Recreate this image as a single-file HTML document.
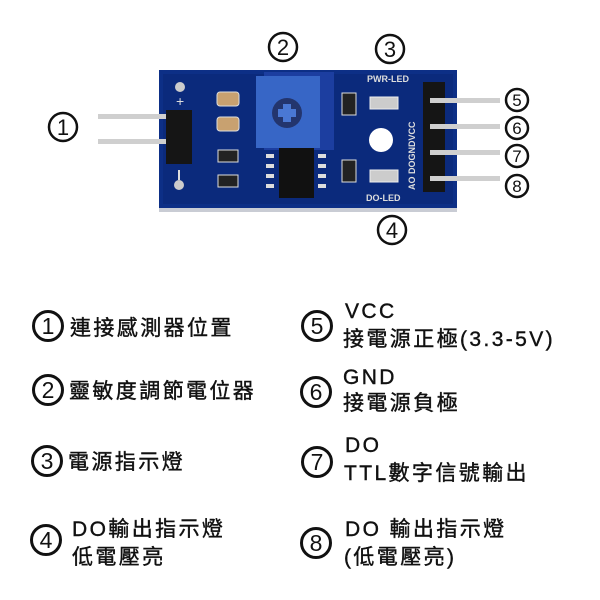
<!DOCTYPE html>
<html><head><meta charset="utf-8"><style>
html,body{margin:0;padding:0;background:#fff}
svg{display:block}
.t{font-family:"Liberation Sans","Noto Sans CJK TC",sans-serif;fill:#111;stroke:#111;stroke-width:0.4}
.c{font-family:"Liberation Sans",sans-serif;fill:#111;text-anchor:middle}
</style></head><body>
<svg width="600" height="600" viewBox="0 0 600 600" xmlns="http://www.w3.org/2000/svg">
<rect x="159" y="200" width="298" height="12" fill="#c9ccd4"/>
<rect x="159" y="70" width="298" height="138" fill="#0d2f86"/>
<rect x="163" y="74" width="290" height="130" fill="#0b2a7c"/>
<rect x="98" y="114" width="70" height="5" fill="#cfcfcf"/>
<rect x="98" y="139" width="70" height="5" fill="#cfcfcf"/>
<rect x="166" y="110" width="26" height="54" fill="#151515"/>
<circle cx="180" cy="87" r="5" fill="#ccc"/>
<circle cx="179" cy="185" r="5" fill="#ccc"/>
<text x="176" y="106" fill="#ddd" font-size="14" font-family="Liberation Sans">+</text>
<rect x="178" y="170" width="2" height="10" fill="#ddd"/>
<rect x="217" y="92" width="22" height="14" rx="3" fill="#c8a170" stroke="#ddd"/>
<rect x="217" y="117" width="22" height="14" rx="3" fill="#c8a170" stroke="#ddd"/>
<rect x="218" y="150" width="20" height="12" fill="#222" stroke="#ddd"/>
<rect x="218" y="175" width="20" height="12" fill="#222" stroke="#ddd"/>
<rect x="264" y="72" width="70" height="78" fill="#1c3ea0"/>
<rect x="256" y="76" width="64" height="72" fill="#3766c6"/>
<circle cx="287" cy="113" r="15" fill="#23356e"/>
<rect x="283" y="104" width="8" height="18" fill="#4a78d4"/>
<rect x="278" y="109" width="18" height="8" fill="#4a78d4"/>
<rect x="279" y="148" width="35" height="50" fill="#111"/>
<g fill="#ddd"><rect x="266" y="154" width="8" height="4"/><rect x="266" y="164" width="8" height="4"/><rect x="266" y="174" width="8" height="4"/><rect x="266" y="184" width="8" height="4"/>
<rect x="318" y="154" width="8" height="4"/><rect x="318" y="164" width="8" height="4"/><rect x="318" y="174" width="8" height="4"/><rect x="318" y="184" width="8" height="4"/></g>
<rect x="342" y="93" width="14" height="22" fill="#222" stroke="#ddd"/>
<rect x="342" y="160" width="14" height="22" fill="#222" stroke="#ddd"/>
<rect x="370" y="97" width="28" height="12" fill="#ccc" stroke="#eee"/>
<rect x="370" y="170" width="28" height="12" fill="#ccc" stroke="#eee"/>
<circle cx="381" cy="140" r="12" fill="#fff"/>
<text x="367" y="82" fill="#ddd" font-size="9" font-family="Liberation Sans" font-weight="bold">PWR-LED</text>
<text x="366" y="201" fill="#ddd" font-size="9" font-family="Liberation Sans" font-weight="bold">DO-LED</text>
<text transform="translate(415,190) rotate(-90)" fill="#ddd" font-size="9" font-family="Liberation Sans" font-weight="bold">AO  DOGNDVCC</text>
<rect x="423" y="82" width="22" height="110" fill="#151515"/>
<g fill="#cfcfcf"><rect x="430" y="98" width="70" height="5"/><rect x="430" y="124" width="70" height="5"/><rect x="430" y="150" width="70" height="5"/><rect x="430" y="176" width="70" height="5"/></g>
<g fill="none" stroke="#111" stroke-width="2.5">
<circle cx="63" cy="127" r="14"/><circle cx="283" cy="47" r="14"/><circle cx="390" cy="49" r="14"/><circle cx="392" cy="230" r="14"/>
<circle cx="517" cy="100" r="11"/><circle cx="517" cy="128" r="11"/><circle cx="517" cy="156" r="11"/><circle cx="517" cy="186" r="11"/>
</g>
<g class="c" font-size="22"><text x="63" y="135">1</text><text x="283" y="55">2</text><text x="390" y="57">3</text><text x="392" y="238">4</text></g>
<g class="c" font-size="17"><text x="517" y="106">5</text><text x="517" y="134">6</text><text x="517" y="162">7</text><text x="517" y="192">8</text></g>
<g fill="none" stroke="#111" stroke-width="3">
<circle cx="48" cy="326" r="14.5"/><circle cx="48" cy="390" r="14.5"/><circle cx="47" cy="461" r="14.5"/><circle cx="46" cy="540" r="14.5"/>
<circle cx="317" cy="326" r="14.5"/><circle cx="316" cy="392" r="14.5"/><circle cx="317" cy="462" r="14.5"/><circle cx="316" cy="543" r="14.5"/>
</g>
<g class="c" font-size="23"><text x="48" y="334">1</text><text x="48" y="398">2</text><text x="47" y="469">3</text><text x="46" y="548">4</text>
<text x="317" y="334">5</text><text x="316" y="400">6</text><text x="317" y="470">7</text><text x="316" y="551">8</text></g>
<g class="t" font-size="21" letter-spacing="2.4">
<text x="70" y="335">連接感測器位置</text>
<text x="69" y="398">靈敏度調節電位器</text>
<text x="68" y="469">電源指示燈</text>
<text x="72" y="536">DO輸出指示燈</text>
<text x="72" y="564">低電壓亮</text>
<text x="345" y="318">VCC</text>
<text x="343" y="346">接電源正極(3.3-5V)</text>
<text x="343" y="384">GND</text>
<text x="343" y="410">接電源負極</text>
<text x="345" y="452">DO</text>
<text x="344" y="480">TTL數字信號輸出</text>
<text x="345" y="536">DO 輸出指示燈</text>
<text x="344" y="564">(低電壓亮)</text>
</g>
</svg>
</body></html>
